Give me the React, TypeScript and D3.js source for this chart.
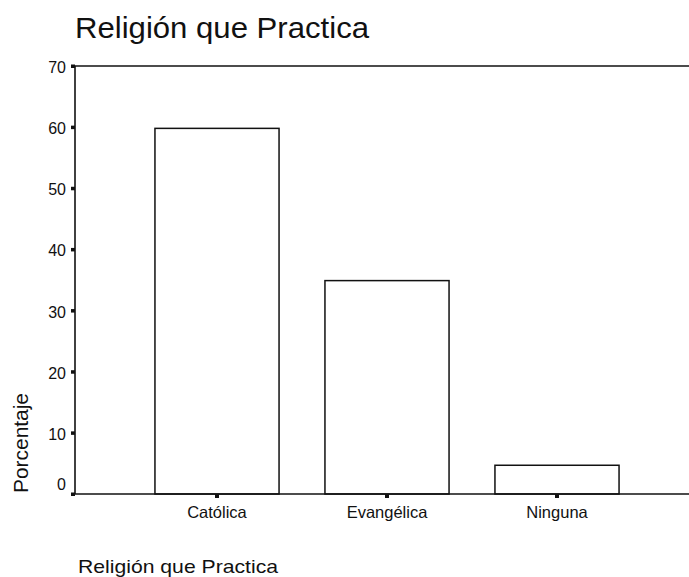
import React from "react";
import * as d3 from "d3";

const categories = ["Católica", "Evangélica", "Ninguna"];
const values = [59.8, 34.9, 4.7];
const yTicks = [0, 10, 20, 30, 40, 50, 60, 70];
const title = "Religión que Practica";
const xTitle = "Religión que Practica";
const yTitle = "Porcentaje";

const W = 689;
const H = 577;
const left = 75;
const top = 66;
const bottom = 494;
const FONT = "'Liberation Sans', Arial, sans-serif";

export default function App() {
  const y = d3.scaleLinear().domain([0, 70]).range([bottom, top]);
  const x = d3
    .scaleBand<string>()
    .domain(categories)
    .range([132, 642])
    .paddingInner(0.27)
    .paddingOuter(0.135);

  return (
    <svg
      width={W}
      height={H}
      style={{ position: "absolute", left: 0, top: 0, background: "#fff" }}
      fontFamily={FONT}
    >
      <text
        x={75}
        y={38}
        fontSize={29}
        fill="#111"
        textLength={294}
        lengthAdjust="spacingAndGlyphs"
      >
        {title}
      </text>
      {/* frame lines */}
      <line x1={left} x2={W} y1={top} y2={top} stroke="#111" strokeWidth={1.6} />
      <line x1={left} x2={left} y1={top} y2={bottom} stroke="#111" strokeWidth={1.6} />
      {/* bars */}
      {categories.map((c, i) => (
        <rect
          key={c}
          x={x(c)!}
          y={y(values[i])}
          width={x.bandwidth()}
          height={bottom - y(values[i])}
          fill="#fff"
          stroke="#111"
          strokeWidth={1.5}
        />
      ))}
      <line x1={left} x2={W} y1={bottom} y2={bottom} stroke="#111" strokeWidth={1.6} />
      {/* y ticks */}
      {yTicks.map((t) => (
        <g key={t}>
          <rect x={left - 4} y={y(t) - 1.5} width={4} height={3.5} fill="#111" />
          <text
            x={66}
            y={y(t) + (t === 0 ? -4 : 7)}
            fontSize={16}
            textAnchor="end"
            fill="#111"
          >
            {t}
          </text>
        </g>
      ))}
      {/* x ticks */}
      {categories.map((c) => (
        <g key={c}>
          <rect x={x(c)! + x.bandwidth() / 2 - 2} y={bottom} width={4} height={4} fill="#111" />
          <text
            x={x(c)! + x.bandwidth() / 2}
            y={518}
            fontSize={16.5}
            textAnchor="middle"
            fill="#111"
          >
            {c}
          </text>
        </g>
      ))}
      <text
        x={78}
        y={573}
        fontSize={19}
        fill="#111"
        textLength={200}
        lengthAdjust="spacingAndGlyphs"
      >
        {xTitle}
      </text>
      <text
        transform={`translate(28, 493) rotate(-90)`}
        fontSize={20}
        fill="#111"
        textLength={100}
        lengthAdjust="spacingAndGlyphs"
      >
        {yTitle}
      </text>
    </svg>
  );
}
